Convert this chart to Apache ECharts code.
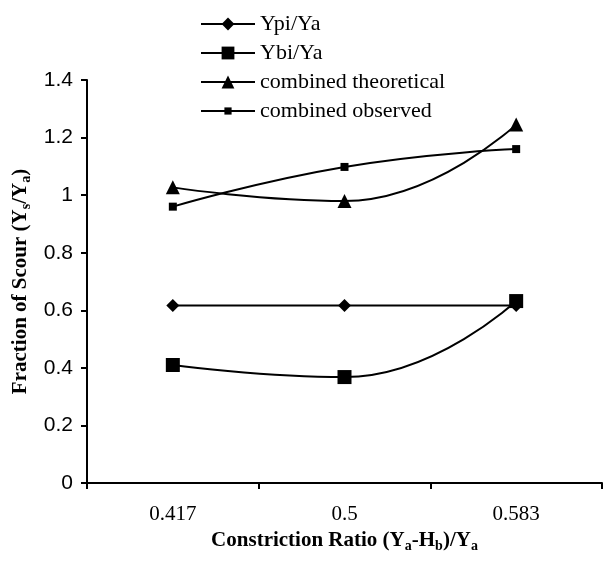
<!DOCTYPE html>
<html><head><meta charset="utf-8">
<script src="https://cdn.jsdelivr.net/npm/echarts@6/dist/echarts.min.js"></script>
<style>html,body{margin:0;padding:0;background:#fff}#c{width:605px;height:561px}</style>
</head><body><div id="c"></div>
<script>
const categories = ['0.417', '0.5', '0.583'];
const ypiYa = [0.617, 0.617, 0.617];
const ybiYa = [0.41, 0.368, 0.632];
const combinedTheoretical = [1.027, 0.98, 1.245];
const combinedObserved = [0.96, 1.098, 1.16];
const seriesNames = ['Ypi/Ya', 'Ybi/Ya', 'combined theoretical', 'combined observed'];

const chart = echarts.init(document.getElementById('c'), null, {renderer: 'canvas'});
const lineStyle = {color: '#000', width: 2};
function mk(name, data, symbol, size) {
  return {name, type: 'line', data, smooth: 0.5, symbol, symbolSize: size,
    itemStyle: {color: '#000'}, lineStyle, z: 3};
}
const legendCenters = [23, 52, 81, 110];
const legendIconH = [16, 16, 16, 9];
const legends = seriesNames.map((n, i) => ({
  orient: 'vertical', left: 200, top: legendCenters[i] - 10, padding: 0,
  itemWidth: 54, itemHeight: legendIconH[i], itemGap: 5,
  lineStyle: {width: 2, color: '#000'},
  data: [n],
  textStyle: {fontFamily: 'Liberation Serif', fontSize: 22, color: '#000'}
}));
const titleRich = {
  b: {fontFamily: 'Liberation Serif', fontWeight: 'bold', fontSize: 21, color: '#000'},
  s: {fontFamily: 'Liberation Serif', fontWeight: 'bold', fontSize: 14, color: '#000', verticalAlign: 'bottom', padding: [10,0,0,0]}
};
chart.setOption({
  animation: false,
  backgroundColor: '#fff',
  grid: {left: 87, right: 3, top: 80, bottom: 78, outerBoundsMode: 'none', containLabel: false},
  legend: legends,
  xAxis: {
    type: 'category', data: categories, boundaryGap: true,
    axisLine: {lineStyle: {color: '#000', width: 2}},
    axisTick: {show: true, length: 6, lineStyle: {color: '#000', width: 2}, alignWithLabel: false},
    axisLabel: {fontFamily: 'Liberation Serif', fontSize: 21, color: '#000', margin: 21},
    name: '{b|Constriction Ratio (Y}{s|a}{b|-H}{s|b}{b|)/Y}{s|a}',
    nameLocation: 'middle', nameGap: 46,
    nameTextStyle: {rich: titleRich}
  },
  yAxis: {
    type: 'value', min: 0, max: 1.4, interval: 0.2,
    axisLine: {show: true, lineStyle: {color: '#000', width: 2}},
    axisTick: {show: true, length: 6, lineStyle: {color: '#000', width: 2}},
    splitLine: {show: false},
    axisLabel: {fontFamily: 'Liberation Sans', fontSize: 21, color: '#000', margin: 14,
      formatter: v => String(Math.round(v * 10) / 10)},
    name: '{b|Fraction of Scour (Y}{s|s}{b|/Y}{s|a}{b|)}',
    nameLocation: 'middle', nameGap: 42, nameRotate: 90,
    nameTextStyle: {rich: titleRich}
  },
  series: [
    mk(seriesNames[0], ypiYa, 'diamond', 13),
    mk(seriesNames[1], ybiYa, 'rect', 14),
    mk(seriesNames[2], combinedTheoretical, 'triangle', 14),
    mk(seriesNames[3], combinedObserved, 'rect', 8)
  ]
});
</script></body></html>
